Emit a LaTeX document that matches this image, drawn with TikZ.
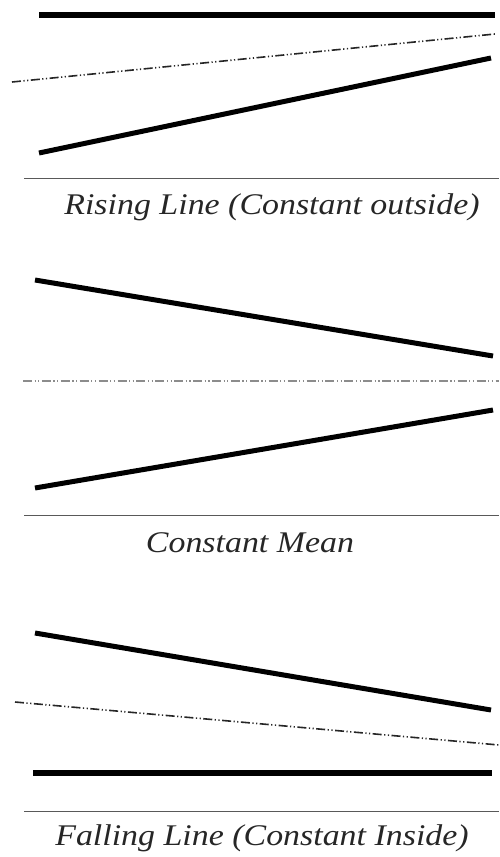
\documentclass[tikz,border=0pt]{standalone}
\usepackage{fontspec}
\setmainfont{Liberation Serif}
\begin{document}
\begin{tikzpicture}[x=1pt,y=-1pt,
  thickline/.style={line width=5pt,black},
  heavyline/.style={line width=6.5pt,black},
  ddline/.style={line width=1.6pt,black!85,dash pattern=on 9pt off 2.5pt on 1.2pt off 2.5pt on 1.2pt off 2.5pt},
  ddlight/.style={line width=1.4pt,black!45,dash pattern=on 9pt off 2.5pt on 1.2pt off 2.5pt on 1.2pt off 2.5pt},
  rule/.style={line width=1pt,black!65},
  caption/.style={font=\itshape\fontsize{30}{32}\selectfont,text=black!85,inner sep=0pt,xscale=1.13}]
\useasboundingbox (0,0) rectangle (499,857);
% Panel 1
\draw[heavyline] (39,15) -- (495,15);
\draw[ddline] (12,82) -- (495,34);
\draw[thickline] (39,153) -- (491,58);
\draw[rule] (24,178) -- (499,178);
\node[caption] (c1) at (272,207) {Rising Line (Constant outside)};
% Panel 2
\draw[thickline] (35,280) -- (493,356);
\draw[ddlight] (23,381) -- (499,381);
\draw[thickline] (35,488) -- (493,410);
\draw[rule] (24,515) -- (499,515);
\node[caption] (c2) at (250,543) {Constant Mean};
% Panel 3
\draw[thickline] (35,633) -- (491,710);
\draw[ddline] (15,702) -- (499,745);
\draw[heavyline] (33,773) -- (492,773);
\draw[rule] (24,811) -- (499,811);
\node[caption] (c3) at (262,838) {Falling Line (Constant Inside)};
\end{tikzpicture}
\end{document}
